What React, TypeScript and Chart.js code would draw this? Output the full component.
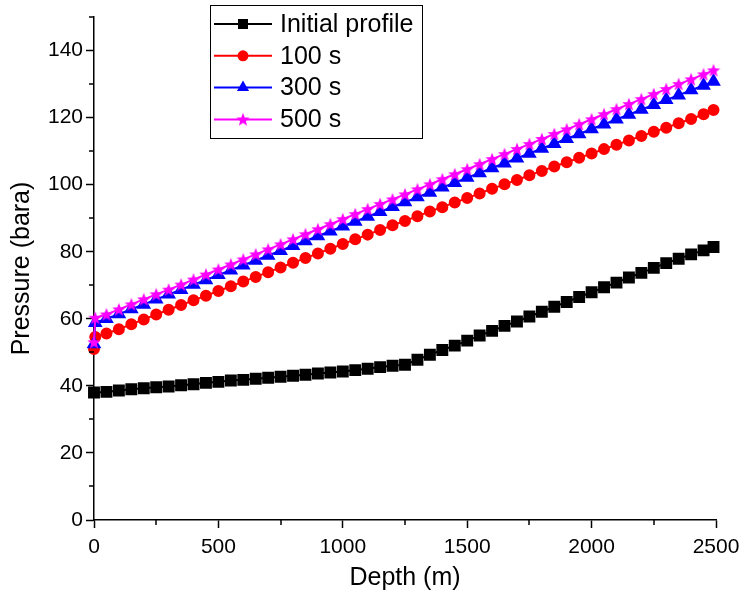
import React, { useEffect, useRef } from 'react';
import { Chart, registerables } from 'chart.js';

Chart.register(...registerables);

const FONT = '"Liberation Sans", Arial, sans-serif';

// Depth (m) for the initial profile
const depthInitial = [
  0, 50, 100, 150, 200, 250, 300, 350, 400, 450, 500, 550, 600, 650, 700, 750, 800, 850, 900, 950,
  1000, 1050, 1100, 1150, 1200, 1250, 1300, 1350, 1400, 1450, 1500, 1550, 1600, 1650, 1700, 1750,
  1800, 1850, 1900, 1950, 2000, 2050, 2100, 2150, 2200, 2250, 2300, 2350, 2400, 2450, 2490,
];
// Depth (m) for the transient profiles
const depthTransient = [
  0, 5, 50, 100, 150, 200, 250, 300, 350, 400, 450, 500, 550, 600, 650, 700, 750, 800, 850, 900, 950,
  1000, 1050, 1100, 1150, 1200, 1250, 1300, 1350, 1400, 1450, 1500, 1550, 1600, 1650, 1700, 1750,
  1800, 1850, 1900, 1950, 2000, 2050, 2100, 2150, 2200, 2250, 2300, 2350, 2400, 2450, 2490,
];

const initialProfile = [
  38.0, 38.2, 38.6, 39.0, 39.3, 39.6, 39.8, 40.2, 40.5, 40.9, 41.2, 41.6, 41.8, 42.1, 42.4, 42.7, 43.0, 43.3, 43.7, 44.0,
  44.3, 44.7, 45.1, 45.6, 46.0, 46.3, 47.8, 49.3, 50.7, 52.0, 53.5, 55.0, 56.4, 57.9, 59.2, 60.7,
  62.1, 63.6, 65.0, 66.5, 67.9, 69.4, 70.8, 72.3, 73.7, 75.2, 76.6, 77.9, 79.2, 80.4, 81.4,
];
const p100s = [
  51.0, 54.6, 55.6, 56.9, 58.4, 59.8, 61.3, 62.7, 64.1, 65.5, 66.9, 68.3, 69.7, 71.1, 72.5, 73.9, 75.3, 76.7, 78.1, 79.5, 80.9,
  82.3, 83.7, 85.1, 86.5, 87.9, 89.2, 90.6, 92.0, 93.3, 94.7, 96.0, 97.4, 98.8, 100.1, 101.4, 102.8,
  104.1, 105.4, 106.7, 108.0, 109.3, 110.6, 111.9, 113.2, 114.5, 115.8, 117.0, 118.3, 119.6, 121.0, 122.3,
];
const p300s = [
  52.5, 58.8, 60.0, 61.4, 62.9, 64.3, 65.8, 67.3, 68.7, 70.2, 71.6, 73.1, 74.5, 76.0, 77.4, 78.9, 80.3, 81.8, 83.2, 84.7, 86.1,
  87.6, 89.0, 90.5, 91.9, 93.4, 94.8, 96.3, 97.7, 99.2, 100.6, 102.1, 103.5, 105.0, 106.4, 107.9, 109.3,
  110.8, 112.2, 113.7, 115.1, 116.6, 118.0, 119.5, 120.9, 122.4, 123.8, 125.3, 126.7, 128.2, 129.6, 130.8,
];
const p500s = [
  53.0, 60.3, 61.3, 62.8, 64.3, 65.8, 67.3, 68.7, 70.2, 71.7, 73.2, 74.7, 76.2, 77.7, 79.2, 80.7, 82.2, 83.7, 85.2, 86.7, 88.2,
  89.7, 91.2, 92.7, 94.2, 95.6, 97.1, 98.6, 100.1, 101.6, 103.1, 104.6, 106.1, 107.6, 109.1, 110.6, 112.1,
  113.6, 115.1, 116.5, 118.0, 119.5, 121.0, 122.5, 124.0, 125.5, 127.0, 128.5, 130.0, 131.4, 132.9, 134.1,
];

const seriesLabels = ['Initial profile', '100 s', '300 s', '500 s'];
const seriesColors = ['#000000', '#ff0000', '#0000ff', '#ff00ff'];

const xMinorTicks = [250, 750, 1250, 1750, 2250];
const yMinorTicks = [10, 30, 50, 70, 90, 110, 130, 150];

function makeStar(color: string, size: number) {
  const c = document.createElement('canvas');
  c.width = size;
  c.height = size;
  const ctx = c.getContext('2d')!;
  const cx = size / 2;
  const cy = size / 2 + 0.5;
  const ro = size / 2;
  const ri = ro * 0.42;
  ctx.beginPath();
  for (let i = 0; i < 10; i++) {
    const r = i % 2 === 0 ? ro : ri;
    const a = -Math.PI / 2 + (i * Math.PI) / 5;
    const px = cx + r * Math.cos(a);
    const py = cy + r * Math.sin(a);
    if (i === 0) ctx.moveTo(px, py);
    else ctx.lineTo(px, py);
  }
  ctx.closePath();
  ctx.fillStyle = color;
  ctx.fill();
  return c;
}

function drawMarker(ctx: CanvasRenderingContext2D, kind: string, x: number, y: number, color: string, star: HTMLCanvasElement) {
  ctx.fillStyle = color;
  if (kind === 'rect') {
    ctx.fillRect(x - 5, y - 5, 10, 10);
  } else if (kind === 'circle') {
    ctx.beginPath();
    ctx.arc(x, y, 5.5, 0, Math.PI * 2);
    ctx.fill();
  } else if (kind === 'triangle') {
    const r = 7;
    ctx.beginPath();
    ctx.moveTo(x, y - r);
    ctx.lineTo(x + r * Math.sin((2 * Math.PI) / 3), y - r * Math.cos((2 * Math.PI) / 3));
    ctx.lineTo(x + r * Math.sin((4 * Math.PI) / 3), y - r * Math.cos((4 * Math.PI) / 3));
    ctx.closePath();
    ctx.fill();
  } else {
    ctx.drawImage(star, x - star.width / 2, y - star.height / 2);
  }
}

export default function App() {
  const ref = useRef<HTMLCanvasElement>(null);

  useEffect(() => {
    if (!ref.current) return;
    const star = makeStar('#ff00ff', 14);
    const markerKinds = ['rect', 'circle', 'triangle', 'star'];

    const toPts = (xs: number[], ys: number[]) => xs.map((x, i) => ({ x, y: ys[i] }));

    const extras = {
      id: 'extras',
      afterDraw(chart: any) {
        const ctx: CanvasRenderingContext2D = chart.ctx;
        const xs = chart.scales.x;
        const ys = chart.scales.y;
        ctx.save();
        // minor ticks
        ctx.strokeStyle = '#000';
        ctx.lineWidth = 1.5;
        ctx.beginPath();
        yMinorTicks.forEach((v) => {
          const py = Math.round(ys.getPixelForValue(v));
          ctx.moveTo(xs.left, py);
          ctx.lineTo(xs.left - 5, py);
        });
        xMinorTicks.forEach((v) => {
          const px = Math.round(xs.getPixelForValue(v));
          ctx.moveTo(px, ys.bottom);
          ctx.lineTo(px, ys.bottom + 5);
        });
        ctx.stroke();

        // legend
        ctx.fillStyle = '#fff';
        ctx.fillRect(210, 5, 212, 133);
        ctx.strokeStyle = '#000';
        ctx.lineWidth = 1;
        ctx.strokeRect(210.5, 5.5, 212, 133);
        ctx.font = `25px ${FONT}`;
        ctx.textBaseline = 'middle';
        ctx.textAlign = 'left';
        seriesLabels.forEach((label, i) => {
          const y = 24 + i * 31.8;
          ctx.strokeStyle = seriesColors[i];
          ctx.lineWidth = 2;
          ctx.beginPath();
          ctx.moveTo(214, y);
          ctx.lineTo(272, y);
          ctx.stroke();
          drawMarker(ctx, markerKinds[i], 243, y, seriesColors[i], star);
          ctx.fillStyle = '#000';
          ctx.fillText(label, 280, y + 1);
        });
        ctx.restore();
      },
    };

    const chart = new Chart(ref.current, {
      type: 'line',
      data: {
        datasets: [
          {
            label: seriesLabels[0],
            data: toPts(depthInitial, initialProfile),
            borderColor: seriesColors[0],
            backgroundColor: seriesColors[0],
            pointBackgroundColor: seriesColors[0],
            pointBorderColor: seriesColors[0],
            pointStyle: 'rect',
            pointRadius: 7,
            borderWidth: 2,
            order: 4,
            clip: false,
          } as any,
          {
            label: seriesLabels[1],
            data: toPts(depthTransient, p100s),
            borderColor: seriesColors[1],
            backgroundColor: seriesColors[1],
            pointBackgroundColor: seriesColors[1],
            pointBorderColor: seriesColors[1],
            pointStyle: 'circle',
            pointRadius: 5,
            borderWidth: 2,
            order: 3,
            clip: false,
          },
          {
            label: seriesLabels[2],
            data: toPts(depthTransient, p300s),
            borderColor: seriesColors[2],
            backgroundColor: seriesColors[2],
            pointBackgroundColor: seriesColors[2],
            pointBorderColor: seriesColors[2],
            pointStyle: 'triangle',
            pointRadius: 6.5,
            borderWidth: 2,
            order: 2,
            clip: false,
          },
          {
            label: seriesLabels[3],
            data: toPts(depthTransient, p500s),
            borderColor: seriesColors[3],
            backgroundColor: seriesColors[3],
            pointStyle: star,
            pointRadius: 7,
            borderWidth: 2,
            order: 1,
            clip: false,
          },
        ],
      },
      options: {
        responsive: false,
        animation: false,
        devicePixelRatio: 1,
        layout: { padding: { top: 17, right: 25, left: 0, bottom: 0 } },
        plugins: {
          legend: { display: false },
          tooltip: { enabled: false },
        },
        elements: { line: { tension: 0 } },
        scales: {
          x: {
            type: 'linear',
            min: 0,
            max: 2500,
            ticks: {
              stepSize: 500,
              color: '#000',
              font: { family: FONT, size: 21 },
              padding: 7,
              maxRotation: 0,
              includeBounds: false,
              callback: (v: any) => String(v),
            },
            grid: { drawOnChartArea: false, tickLength: 8, tickWidth: 1.5, tickColor: '#000' },
            border: { color: '#000', width: 1.5 },
            title: {
              display: true,
              text: 'Depth (m)',
              color: '#000',
              font: { family: FONT, size: 25 },
              padding: { top: 0, bottom: 11 },
            },
            afterFit: (s: any) => {
              s.height = 84;
              s.paddingRight = 0;
              s.paddingLeft = 0;
            },
          },
          y: {
            type: 'linear',
            min: 0,
            max: 150,
            ticks: {
              stepSize: 20,
              color: '#000',
              font: { family: FONT, size: 21 },
              padding: 3,
              includeBounds: false,
              callback: (v: any) => String(v),
            },
            grid: { drawOnChartArea: false, tickLength: 8, tickWidth: 1.5, tickColor: '#000' },
            border: { color: '#000', width: 1.5 },
            title: {
              display: true,
              text: 'Pressure (bara)',
              color: '#000',
              font: { family: FONT, size: 25 },
              padding: { top: 7, bottom: 0 },
            },
            afterFit: (s: any) => {
              s.width = 94;
              s.paddingTop = 0;
              s.paddingBottom = 0;
            },
          },
        },
      },
      plugins: [extras],
    });
    return () => chart.destroy();
  }, []);

  return (
    <div style={{ position: 'absolute', left: 0, top: 0, width: 741, height: 604, background: '#fff' }}>
      <canvas ref={ref} width={741} height={604} style={{ display: 'block' }} />
    </div>
  );
}
